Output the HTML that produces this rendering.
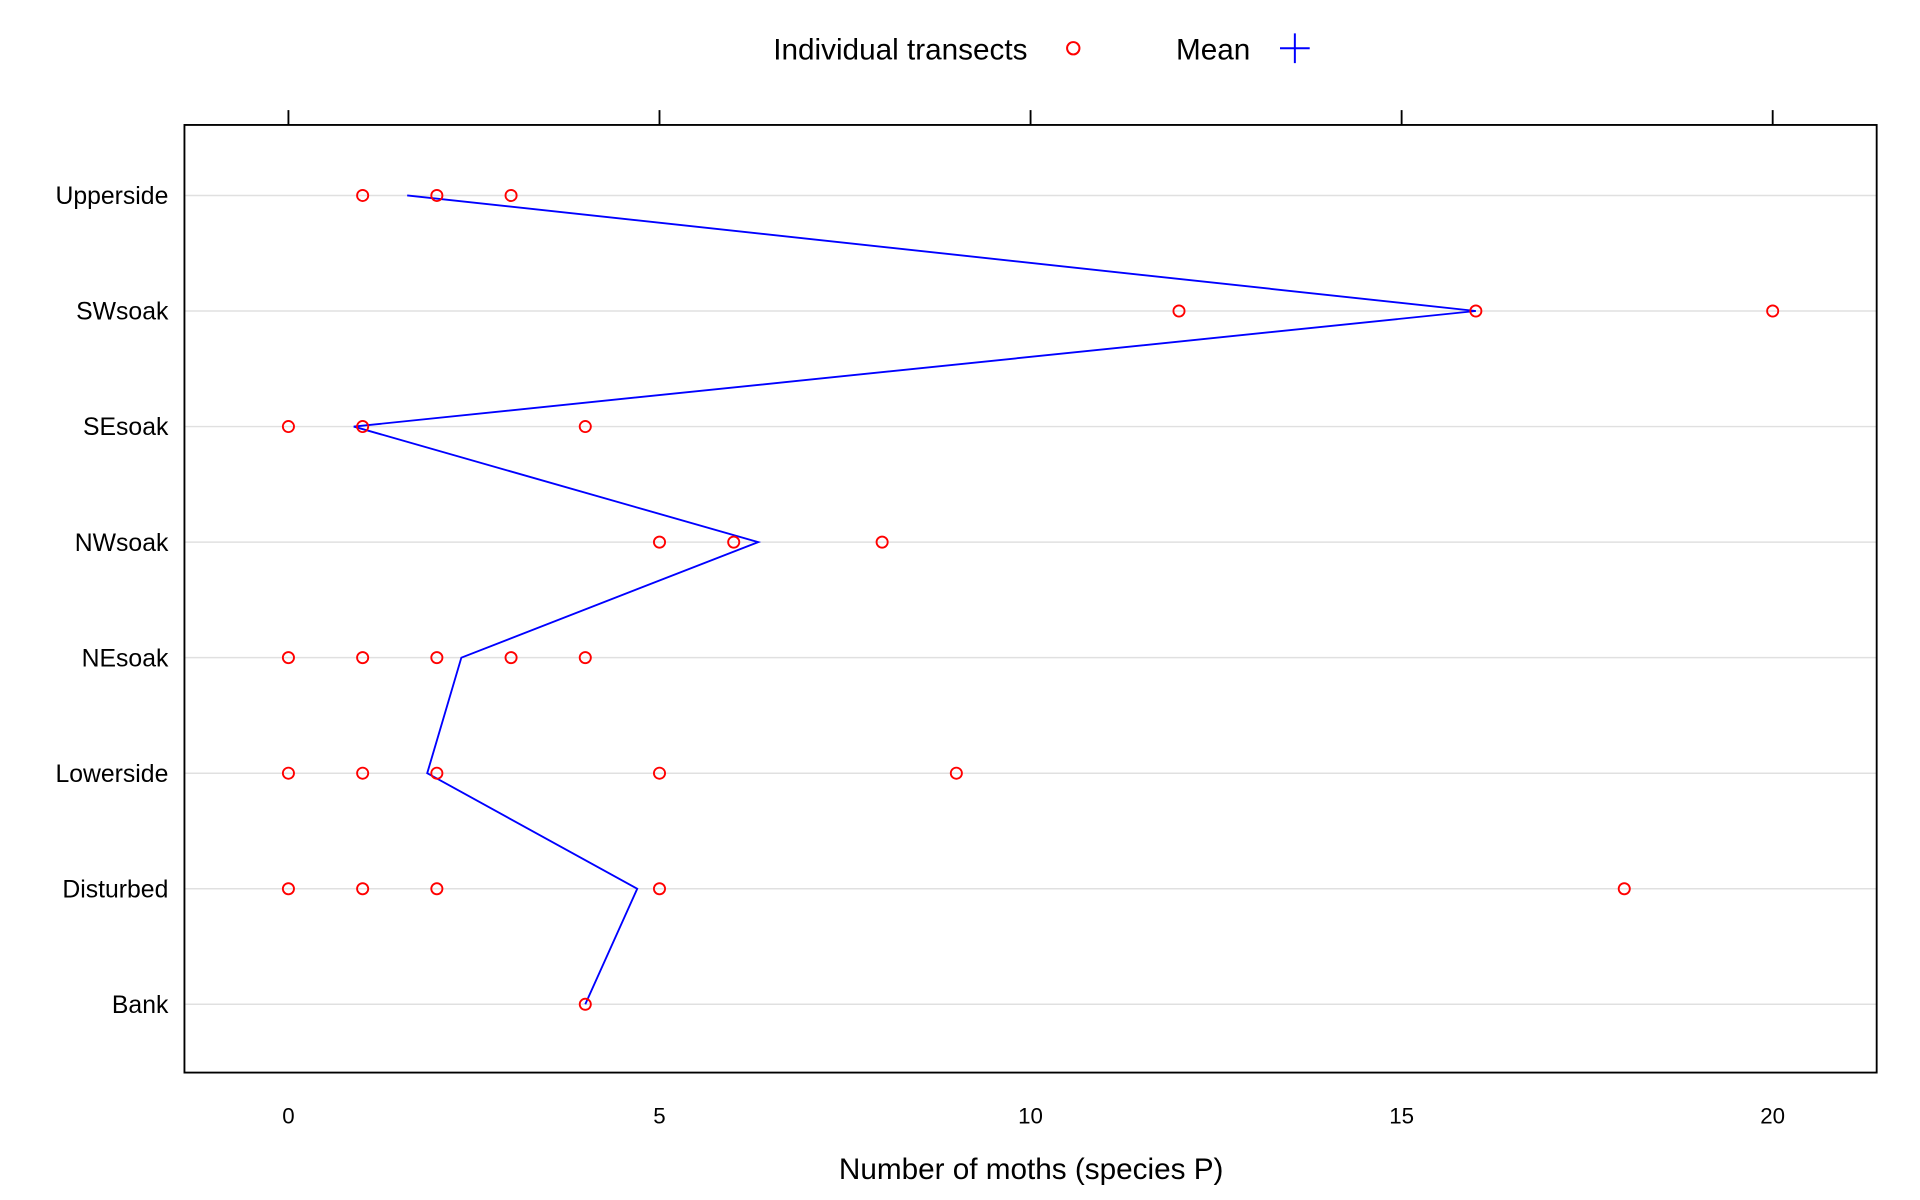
<!DOCTYPE html>
<html><head><meta charset="utf-8"><style>
html,body{margin:0;padding:0;background:#fff;}
svg{display:block;font-family:"Liberation Sans",Arial,sans-serif;}
</style></head><body>
<svg id="chart" width="1920" height="1200" viewBox="0 0 1551 970" preserveAspectRatio="none" xmlns="http://www.w3.org/2000/svg">
<g>
<text x="830" y="48" font-size="24" text-anchor="end">Individual transects</text>
<circle cx="867" cy="39" r="5" fill="none" stroke="#f00" stroke-width="1.6"/>
<text x="1010" y="48" font-size="24" text-anchor="end">Mean</text>
<path d="M1034 39h24M1046 27v24" stroke="#00f" stroke-width="1.6"/>
</g>
<g id="grid"></g>
<g id="marks"></g>
<rect x="149" y="101" width="1367" height="766" fill="none" stroke="#000" stroke-width="1.5"/>
<g id="axes"></g>
<text x="833" y="953" font-size="24" text-anchor="middle">Number of moths (species P)</text>
</svg>
<script>
const categories = ["Upperside","SWsoak","SEsoak","NWsoak","NEsoak","Lowerside","Disturbed","Bank"];
const transects = [[1,2,3],[12,16,20],[0,1,4],[5,6,8],[0,1,2,3,4],[0,1,2,5,9],[0,1,2,5,18],[4]];
const means = [1.6,16,0.88,6.33,2.33,1.87,4.7,4];
const xTicks = [0,5,10,15,20];

const NS="http://www.w3.org/2000/svg";
const x = v => 233 + v*59.95;
const y = i => 158 + i*93.4;
function mk(tag, attrs, parent){const e=document.createElementNS(NS,tag);for(const k in attrs)e.setAttribute(k,attrs[k]);parent.appendChild(e);return e;}
const grid=document.getElementById('grid'), marks=document.getElementById('marks'), axes=document.getElementById('axes');
categories.forEach((c,i)=>{
  const g=mk('line',{x1:149,x2:1516,y1:y(i),y2:y(i),stroke:'#e0e0e0','stroke-width':1.2},grid);
  
  
  const t=mk('text',{x:136,y:y(i)+7,'font-size':20,'text-anchor':'end'},axes);
  t.textContent=c;
  
  
});
xTicks.forEach(v=>{
  const l=mk('line',{x1:x(v),x2:x(v),y1:89,y2:101,stroke:'#000','stroke-width':1.5},axes);
  
  
  const t=mk('text',{x:x(v),y:908,'font-size':18,'text-anchor':'middle'},axes);
  t.textContent=v;
  
  
});
const pl=mk('polyline',{points:means.map((m,i)=>x(m)+','+y(i)).join(' '),fill:'none',stroke:'#00f','stroke-width':1.5},marks);


transects.forEach((arr,i)=>arr.forEach(v=>{
  const c=mk('circle',{cx:x(v),cy:y(i),r:4.5,fill:'none',stroke:'#f00','stroke-width':1.5},marks);
  
  
}));
</script>
</body></html>
